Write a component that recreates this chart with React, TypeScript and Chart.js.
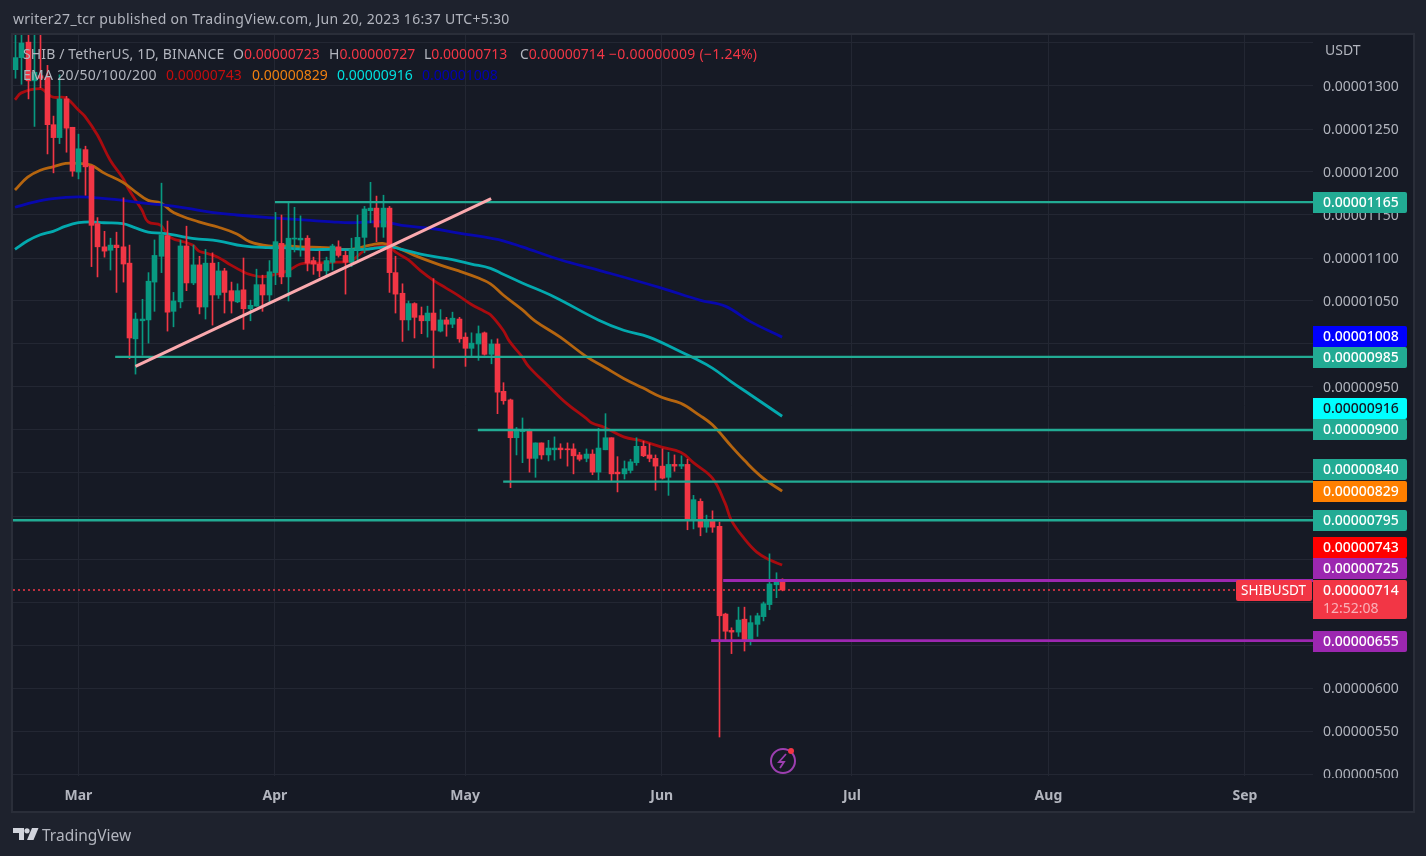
import React, { useEffect, useRef } from "react";
import { Chart, registerables } from "chart.js";

Chart.register(...registerables);

// Prices are in units of 0.00000001 USDT. Days are counted from 1 March 2023.
const firstDay = -10;
const opens = [1319,1333,1351,1306,1312,1310,1255,1240,1285,1252,1200,1226,1207,1140,1113,1109,1115,1113,1094,1006,1027,1028,1072,1102,1126,1038,1049,1114,1071,1092,1043,1094,1057,1085,1062,1049,1063,1041,1044,1069,1057,1083,1117,1078,1122,1121,1123,1097,1093,1085,1095,1113,1103,1095,1109,1124,1155,1158,1136,1158,1083,1059,1028,1047,1033,1027,1036,1015,1028,1023,1029,1008,995,1000,1013,988,1000,945,935,891,898,899,867,885,871,877,879,878,878,871,867,872,851,877,891,851,849,853,862,881,871,867,858,845,860,858,860,796,817,787,794,788,686,667,665,680,654,674,683,697,720,723];
const highs = [1360,1360,1360,1360,1362,1324,1265,1313,1288,1252,1244,1230,1207,1147,1131,1123,1130,1170,1115,1036,1052,1083,1121,1187,1143,1060,1121,1137,1115,1102,1110,1106,1095,1088,1072,1070,1100,1051,1087,1080,1097,1153,1150,1165,1159,1149,1126,1101,1108,1101,1116,1120,1108,1123,1150,1160,1188,1172,1173,1160,1102,1070,1050,1048,1043,1044,1076,1040,1031,1037,1031,1013,1013,1021,1014,1005,1006,955,936,903,914,901,885,885,888,892,884,885,884,874,878,877,902,919,891,869,864,866,891,887,884,871,878,874,871,870,866,824,820,801,806,793,687,670,694,694,684,687,700,756,734,727];
const lows = [1309,1302,1285,1253,1298,1221,1199,1233,1223,1195,1192,1173,1090,1078,1101,1086,1060,1072,983,965,987,1001,1038,1083,1015,1020,1042,1062,1069,1035,1029,1022,1053,1036,1036,1048,1017,1027,1044,1038,1048,1069,1070,1050,1107,1102,1085,1081,1078,1079,1086,1101,1058,1090,1098,1106,1141,1119,1124,1060,1036,1003,1016,1007,1012,1008,972,1014,1009,1019,1002,974,986,981,987,977,919,930,833,871,862,851,845,866,864,865,867,858,849,864,863,848,842,877,840,828,843,850,859,869,863,830,843,824,852,855,784,785,777,781,781,543,655,640,660,643,650,660,678,691,705,713];
const closes = [1333,1350,1306,1316,1309,1255,1240,1285,1251,1201,1227,1206,1138,1113,1108,1115,1112,1093,1007,1029,1029,1073,1103,1127,1037,1050,1114,1071,1092,1043,1094,1057,1085,1060,1050,1062,1041,1045,1069,1057,1084,1119,1078,1123,1123,1123,1094,1093,1085,1097,1114,1103,1095,1110,1124,1157,1158,1136,1158,1083,1058,1028,1047,1031,1027,1036,1016,1028,1023,1030,1006,995,1001,1012,988,1000,944,934,891,901,899,867,885,871,879,879,877,877,870,866,872,851,879,891,849,849,855,863,881,870,867,858,844,860,858,860,796,819,787,794,787,684,666,665,679,655,676,684,698,721,723,714];

const ema20Days = [-10,-9,-6,-5,-4,-2,0,1,3,5,7,8,10,11,13,14,15,16,18,19,20,22,24,26,27,29,31,33,35,37,40,43,45,47,49,50,52,54,56,58,60,62,64,65,67,68,70,71,74,77,80,81,83,86,89,92,95,97,100,102,103,105,107,109,111];
const ema20 = [1284,1292,1297,1292,1287,1286,1272,1265,1243,1214,1193,1179,1156,1142,1138,1127,1122,1120,1115,1108,1106,1101,1092,1084,1081,1078,1081,1085,1093,1094,1095,1097,1108,1113,1114,1107,1098,1085,1074,1065,1056,1046,1038,1034,1016,1003,985,974,952,931,914,908,903,892,887,880,874,862,844,815,795,774,758,749,743];
const ema50Days = [-10,-8,-6,-4,-2,0,2,4,7,9,11,13,15,19,22,25,27,30,33,35,39,43,46,48,50,53,57,60,63,65,67,70,72,76,80,83,86,89,92,95,98,100,103,105,108,111];
const ema50 = [1179,1194,1202,1206,1210,1210,1208,1199,1188,1177,1167,1164,1153,1142,1136,1128,1119,1114,1114,1113,1112,1110,1115,1117,1113,1103,1092,1085,1077,1070,1057,1040,1027,1008,986,973,960,949,938,931,917,906,881,865,844,829];
const ema100Days = [-10,-8,-6,-4,-2,0,2,4,7,9,11,13,15,17,19,22,26,30,32,36,40,45,49,51,55,59,62,65,67,70,75,82,86,90,95,97,100,103,106,111];
const ema100 = [1110,1120,1127,1131,1137,1141,1142,1141,1140,1135,1130,1129,1127,1124,1122,1120,1114,1112,1112,1110,1110,1110,1113,1110,1103,1098,1093,1088,1081,1071,1055,1028,1016,1008,991,984,972,956,941,916];
const ema200Days = [-10,-7,-4,0,3,7,10,13,17,21,25,30,36,40,43,48,51,56,60,65,67,70,76,82,92,98,102,106,111];
const ema200 = [1159,1165,1169,1171,1170,1167,1164,1162,1158,1153,1150,1147,1144,1142,1141,1142,1138,1134,1129,1123,1120,1113,1098,1086,1065,1051,1044,1026,1008];

const levelValues = [1165, 985, 900, 840, 795];
const levelStartDays = [31, 5.8, 63, 67, -10.315];
const purpleValues = [725, 655];
const purpleStartDays = [101.7, 99.8];
const trendDays = [9, 65.1];
const trendValues = [974, 1169];
const lastPrice = 714;

const monthDays = [0, 31, 61, 92, 122, 153, 184];
const monthNames = ["Mar", "Apr", "May", "Jun", "Jul", "Aug", "Sep"];
const priceTicks = [500,550,600,650,700,750,800,850,900,950,1000,1050,1100,1150,1200,1250,1300,1350];
const hiddenTicks = [1350];

const tagValues = [1165, 1008, 985, 916, 900, 840, 829, 795, 743, 725, 655];
const tagFills = ["#22ab94","#0000ff","#22ab94","#00ffff","#22ab94","#22ab94","#ff8000","#22ab94","#ff0000","#9c27b0","#9c27b0"];
const tagNudges = [0, -1, 0, -8, -1, -13, 0, 0, -18, -12, 0];

const BG = "#1e222d";
const PANE = "#161a25";
const GRID = "#232733";
const BORDER = "#2a2e39";
const TEXT = "#b2b5be";
const UP = "#089981";
const DOWN = "#f23645";
const TEAL = "#22ab94";
const PURPLE = "#9c27b0";
const FONT = '"Noto Sans", sans-serif';

const AXIS_MIN = -10.315;
const AXIS_MAX = 194.73;

const fmt = (v: number) => (v * 1e-8).toFixed(8);
const zip = (xs: number[], ys: number[]) => xs.map((x, i) => ({ x, y: ys[i] }));
const candleDays = opens.map((_, i) => firstDay + i);
const candleColors = opens.map((o, i) => (closes[i] >= o ? UP : DOWN));

const paintFrame = {
  id: "paintFrame",
  beforeDraw(chart: any) {
    const { ctx, width, height } = chart;
    const yScale = chart.scales.y;
    if (!yScale.__shifted) {
      // price labels sit one pixel lower in this font's middle line
      const draw = yScale.drawLabels;
      yScale.drawLabels = function (area: any) {
        ctx.save();
        ctx.translate(0, 1);
        draw.call(yScale, area);
        ctx.restore();
      };
      yScale.__shifted = true;
    }
    ctx.save();
    ctx.fillStyle = BG;
    ctx.fillRect(0, 0, width, height);
    ctx.fillStyle = PANE;
    ctx.fillRect(13, 35, 1400, 776);
    ctx.strokeStyle = BORDER;
    ctx.lineWidth = 2;
    ctx.strokeRect(12, 34, 1402, 778);
    ctx.restore();
  },
  beforeDatasetsDraw(chart: any) {
    chart.data.datasets.forEach((ds: any, i: number) => {
      if (ds.type !== "bar") return;
      chart.getDatasetMeta(i).data.forEach((el: any) => {
        if (el.$snapped === undefined) {
          el.$snapped = Math.round(el.x) + 0.5;
        }
        el.x = el.$snapped;
      });
    });
  },
  afterDraw(chart: any) {
    const { ctx, scales } = chart;
    const y = scales.y;
    ctx.save();
    // the pane's bottom edge crops the lowest price label
    ctx.fillStyle = PANE;
    ctx.fillRect(1313, 778, 100, 33);

    ctx.textBaseline = "middle";
    ctx.textAlign = "left";
    ctx.font = `14px ${FONT}`;
    ctx.fillStyle = TEXT;
    ctx.fillText("USDT", 1325, 51);

    const tag = (val: number, fill: string, ink: string, nudge: number) => {
      const cy = Math.round(y.getPixelForValue(val)) + nudge;
      ctx.fillStyle = fill;
      ctx.beginPath();
      ctx.roundRect(1313, cy - 10, 94, 21, [0, 2, 2, 0]);
      ctx.fill();
      ctx.fillStyle = ink;
      ctx.font = `500 14px ${FONT}`;
      ctx.fillText(fmt(val), 1323, cy + 1.5);
    };
    tagValues.forEach((v, i) => {
      tag(v, tagFills[i], tagFills[i] === "#00ffff" ? "#131722" : "#ffffff", tagNudges[i]);
    });

    // last price block with countdown, and the symbol flag
    const py = Math.round(y.getPixelForValue(lastPrice));
    ctx.fillStyle = DOWN;
    ctx.beginPath();
    ctx.roundRect(1313, py - 10, 94, 39, [0, 2, 2, 0]);
    ctx.fill();
    ctx.beginPath();
    ctx.roundRect(1236, py - 10, 76, 21, 2);
    ctx.fill();
    ctx.fillStyle = "#ffffff";
    ctx.fillText(fmt(lastPrice), 1323, py + 1.5);
    ctx.font = `13.5px ${FONT}`;
    ctx.fillText("SHIBUSDT", 1241, py + 1.5);
    ctx.font = `14px ${FONT}`;
    ctx.fillStyle = "#fab1b8";
    ctx.fillText("12:52:08", 1323, py + 19.5);
    ctx.restore();
  },
};

const emaLine = (xs: number[], ys: number[], color: string, label: string) => ({
  type: "line",
  label,
  data: zip(xs, ys),
  borderColor: color,
  borderWidth: 2.8,
  pointRadius: 0,
  tension: 0.4,
  order: 5,
});
const flatLine = (start: number, value: number, color: string, width: number, label: string) => ({
  type: "line",
  label,
  data: [{ x: start, y: value }, { x: AXIS_MAX, y: value }],
  borderColor: color,
  borderWidth: width,
  pointRadius: 0,
  order: 2,
});

const label: React.CSSProperties = {
  position: "absolute",
  whiteSpace: "pre",
  lineHeight: "20px",
  fontFamily: FONT,
  fontSize: 14,
};

function At({ x, y, c, size, sp, children }: { x: number; y: number; c: string; size?: number; sp?: number; children: React.ReactNode }) {
  return <div style={{ ...label, left: x, top: y - 10, color: c, fontSize: size ?? 14, letterSpacing: sp ?? 0 }}>{children}</div>;
}

export default function App() {
  const ref = useRef<HTMLCanvasElement | null>(null);

  useEffect(() => {
    const chart = new Chart(ref.current as HTMLCanvasElement, {
      type: "bar",
      plugins: [paintFrame],
      data: {
        datasets: [
          emaLine(ema200Days, ema200, "#0808ad", "EMA 200"),
          emaLine(ema100Days, ema100, "#03a9ae", "EMA 100"),
          emaLine(ema50Days, ema50, "#b5650f", "EMA 50"),
          emaLine(ema20Days, ema20, "#a90b0f", "EMA 20"),
          {
            type: "bar",
            label: "wick",
            data: candleDays.map((x, i) => ({ x, y: [lows[i], highs[i]] })),
            backgroundColor: candleColors,
            barThickness: 1,
            grouped: false,
            order: 4,
          },
          {
            type: "bar",
            label: "body",
            data: candleDays.map((x, i) => ({ x, y: [opens[i], closes[i]] })),
            backgroundColor: candleColors,
            barThickness: 5,
            grouped: false,
            minBarLength: 1,
            order: 3,
          },
          ...levelValues.map((v, i) => flatLine(levelStartDays[i], v, TEAL, 2.4, `level ${v}`)),
          ...purpleValues.map((v, i) => flatLine(purpleStartDays[i], v, PURPLE, 2.8, `level ${v}`)),
          {
            type: "line",
            label: "trend",
            data: zip(trendDays, trendValues),
            borderColor: "#fba9ae",
            borderWidth: 3,
            pointRadius: 0,
            order: 1,
          },
          {
            type: "line",
            label: "last price",
            data: [{ x: AXIS_MIN, y: lastPrice }, { x: AXIS_MAX, y: lastPrice }],
            borderColor: DOWN,
            borderWidth: 1.5,
            borderDash: [2, 3],
            pointRadius: 0,
            order: 6,
          },
        ] as any,
      },
      options: {
        animation: false,
        responsive: false,
        events: [],
        layout: { padding: { left: 13, top: 35, right: 0, bottom: 0 } },
        plugins: { legend: { display: false }, tooltip: { enabled: false } },
        scales: {
          x: {
            type: "linear",
            min: AXIS_MIN,
            max: AXIS_MAX,
            offset: false,
            afterBuildTicks: (s: any) => {
              s.ticks = monthDays.map((value) => ({ value }));
            },
            afterFit: (s: any) => {
              s.height = 80;
            },
            grid: { color: GRID, drawTicks: false, offset: false },
            border: { display: false },
            ticks: {
              autoSkip: false,
              maxRotation: 0,
              padding: 12,
              color: TEXT,
              font: { family: FONT, size: 14, weight: "bold" },
              callback: (v: any) => monthNames[monthDays.indexOf(Number(v))] ?? "",
            },
          },
          y: {
            type: "linear",
            position: "right",
            min: 1400 - 776 / 0.86,
            max: 1400 - 35 / 0.86,
            afterBuildTicks: (s: any) => {
              s.ticks = priceTicks.map((value) => ({ value }));
            },
            afterFit: (s: any) => {
              s.width = 113;
            },
            grid: { color: GRID, drawTicks: false },
            border: { display: false },
            ticks: {
              autoSkip: false,
              padding: 10,
              color: TEXT,
              font: { family: FONT, size: 14 },
              callback: (v: any) => (hiddenTicks.includes(Number(v)) ? "" : fmt(Number(v))),
            },
          },
        },
      } as any,
    });
    return () => chart.destroy();
  }, []);

  return (
    <div style={{ position: "fixed", left: 0, top: 0, width: 1426, height: 856, overflow: "hidden" }}>
      <canvas ref={ref} width={1426} height={856} />
      <At x={13} y={19} c={TEXT} sp={0.28}>writer27_tcr published on TradingView.com, Jun 20, 2023 16:37 UTC+5:30</At>

      <At x={23} y={54} c={TEXT} sp={0.14}>SHIB / TetherUS, 1D, BINANCE</At>
      <At x={233} y={54} c={TEXT}>O<span style={{ color: DOWN }}>0.00000723</span></At>
      <At x={329} y={54} c={TEXT}>H<span style={{ color: DOWN }}>0.00000727</span></At>
      <At x={424} y={54} c={TEXT}>L<span style={{ color: DOWN }}>0.00000713</span></At>
      <At x={520} y={54} c={TEXT}>C<span style={{ color: DOWN }}>0.00000714</span></At>
      <At x={609} y={54} c={DOWN} sp={0.25}>−0.00000009 (−1.24%)</At>

      <At x={23} y={75} c={TEXT} sp={0.3}>EMA 20/50/100/200</At>
      <At x={166} y={75} c="#c40d0d">0.00000743</At>
      <At x={252} y={75} c="#f08010">0.00000829</At>
      <At x={337} y={75} c="#00e0e0">0.00000916</At>
      <At x={422} y={75} c="#0000b5">0.00001008</At>

      <svg style={{ position: "absolute", left: 13, top: 827 }} width="26" height="14" viewBox="0 0 26 14">
        <path fill="#d1d4dc" d="M0 1h11v12H6V6H0z" />
        <circle cx="14" cy="3.8" r="2.6" fill="#d1d4dc" />
        <path fill="#d1d4dc" d="M19 1h6.5l-5 12H14z" />
      </svg>
      <At x={42} y={835} c={TEXT} size={15.5}>TradingView</At>

      <svg style={{ position: "absolute", left: 768, top: 746 }} width="30" height="30" viewBox="0 0 30 30">
        <circle cx="15" cy="15" r="12" fill="none" stroke="#9c3fb0" strokeWidth="2" />
        <path d="M18 8l-7 8h5l-4 6" fill="none" stroke="#9c3fb0" strokeWidth="1.8" />
        <circle cx="23" cy="5" r="3" fill={DOWN} />
      </svg>
    </div>
  );
}
